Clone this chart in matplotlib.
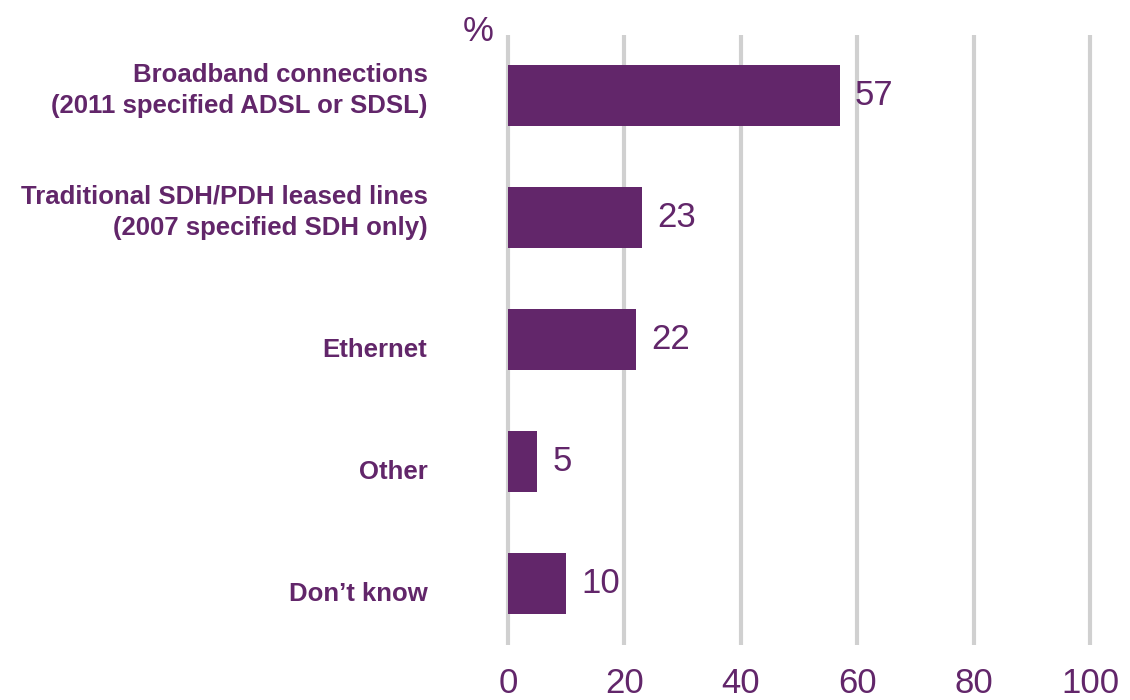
import matplotlib
matplotlib.use("Agg")
import matplotlib.pyplot as plt

# survey responses: connection types used (%)
categories = [
    "Broadband connections\n(2011 specified ADSL or SDSL)",
    "Traditional SDH/PDH leased lines\n(2007 specified SDH only)",
    "Ethernet",
    "Other",
    "Don\u2019t know",
]
values = [57, 23, 22, 5, 10]
x_ticks = [0, 20, 40, 60, 80, 100]

purple = "#62266A"
grid_grey = "#D0D0D0"

plt.rcParams["font.family"] = ["Liberation Sans", "DejaVu Sans"]

fig = plt.figure(figsize=(11.3, 7), dpi=100)
ax = fig.add_axes([0.4496, 0.0786, 0.515, 0.8714])

pos = list(range(len(categories)))
ax.barh(pos, values, height=0.5, color=purple, zorder=3)

for y, v in zip(pos, values):
    ax.annotate(str(v), xy=(v, y), xytext=(11, 0), textcoords="offset points",
                ha="left", va="center", fontsize=25, color=purple, zorder=4)

# category labels sit left of the axis; single-line ones drop a little lower
for y, label in zip(pos, categories):
    dy = 4 if "\n" in label else -7
    ax.annotate(label, xy=(0, y), xytext=(-58, dy), textcoords="offset points",
                ha="right", va="center", multialignment="right",
                fontsize=18.5, fontweight="bold", color=purple, linespacing=1.38,
                annotation_clip=False)

ax.set_xlim(0, 100)
ax.set_ylim(4.5, -0.5)
ax.set_xticks(x_ticks)
ax.set_xticklabels([str(t) for t in x_ticks])
ax.set_yticks([])

for t in x_ticks:
    ax.axvline(t, color=grid_grey, lw=3, zorder=1, clip_on=False,
               solid_capstyle="butt")

ax.tick_params(axis="x", length=0, pad=16, labelsize=25, labelcolor=purple)
for s in ax.spines.values():
    s.set_visible(False)

fig.text(0.423, 0.955, "%", fontsize=25, color=purple, ha="center", va="center")

fig.savefig("out.png", dpi=100)
